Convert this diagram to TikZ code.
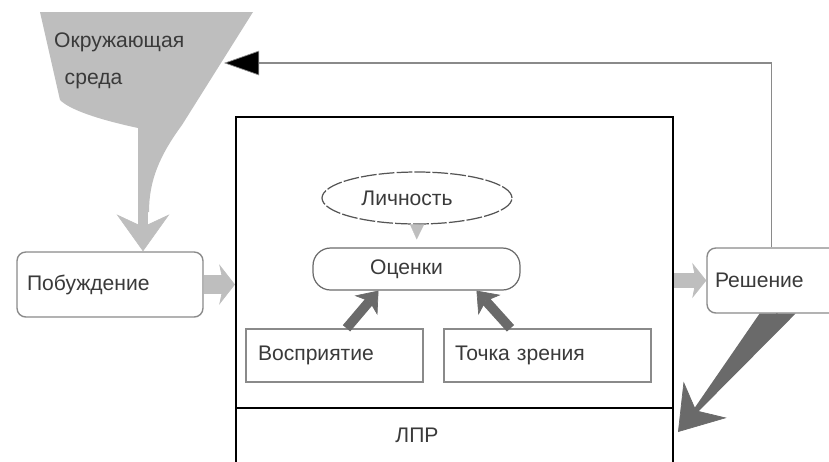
\documentclass[tikz,border=0pt]{standalone}
\usepackage{fontspec}
\setmainfont{Liberation Sans}
\usepackage{xcolor}
\usepackage{tikz}
\usetikzlibrary{arrows.meta,calc,positioning,shapes.geometric}
\definecolor{Ink}{HTML}{3A3A3A}
\definecolor{EnvGray}{HTML}{BEBEBE}
\definecolor{DarkGray}{HTML}{6A6A6A}
\definecolor{Edge}{HTML}{8A8A8A}

\begin{document}
\begin{tikzpicture}[x=0.02cm,y=-0.02cm,
  font=\fontsize{12}{14}\selectfont,text=Ink,
  softbox/.style={draw=Edge,line width=0.8pt,rounded corners=5pt,fill=white,align=left,minimum height=1.3cm,inner ysep=0pt},
  flatbox/.style={draw=Edge,line width=0.8pt,fill=white,align=left,minimum height=1.06cm,inner ysep=0pt},
  heavy/.style={draw=black,line width=1.2pt,minimum width=8.74cm,inner sep=0pt},
  bubble/.style={ellipse,draw=DarkGray!80!black,line width=0.7pt,dash pattern=on 9pt off 1.2pt,minimum width=3.8cm,minimum height=1.04cm,inner sep=0pt},
  fat/.style={draw=EnvGray,line width=11pt,-{Stealth[length=9pt,width=23pt,inset=2.5pt,line width=0.4pt]}},
  dark/.style={draw=DarkGray,line width=5.5pt,-{Stealth[length=11pt,width=17pt,inset=3pt,line width=0.4pt]}},
  feedback/.style={draw=Edge,line width=0.9pt,-{Triangle[length=20pt,width=14pt,line width=0.4pt,fill=black]}},
  cue/.style={draw=EnvGray,line width=0.1pt,-{Triangle[length=8.5pt,width=8pt]},shorten >=0.16cm}
]
\clip (0,0) rectangle (829,461);
% environment funnel
\fill[EnvGray] (40,12) -- (253,12) -- (182,125) .. controls (160,155) and (149,180) .. (149,212)
  -- (138,212) -- (138,128) .. controls (110,122) and (72,112) .. (60,100) -- cycle;
\node[anchor=west,align=left] (envtext) at (48,61) {Окружающая\\[7pt]\hspace*{6pt}среда};
\coordinate (envout) at (143,205);
\coordinate (envin) at (224,63);
\coordinate (lprtip) at (678,432);

\node[heavy,minimum height=5.82cm] (main) at (454.5,262.5) {};
\node[heavy,minimum height=1.34cm] (lpr) at (454.5,441.5) {};
\node (lprtext) at (417,435) {ЛПР};

\node[softbox,text width=3.32cm,inner xsep=0.2cm] (impulse) at (110,284.5) {Побуждение};
\node[softbox,text width=2.74cm,inner xsep=0.16cm] (decision) at (783.5,280.5) {Решение};

\node[bubble] (persona) at (417,198) {Личность\hspace*{0.4cm}};
\node[draw=DarkGray,line width=0.7pt,rounded corners=10pt,minimum width=4.14cm,minimum height=0.84cm,inner sep=0pt] (grades) at (416.5,269) {Оценки\hspace*{0.4cm}};
\node[flatbox,text width=3.06cm,inner xsep=0.24cm] (perception) at (334.5,355.5) {Восприятие};
\node[flatbox,text width=3.7cm,inner xsep=0.22cm] (viewpoint) at (547.5,355.5) {Точка зрения};

% connectors
\draw[fat,line width=5.5pt,-{Stealth[length=21pt,width=30pt,inset=7pt,line width=0.4pt]}] (envout) -- (impulse.north -| envout);
\draw[fat] (impulse.east) -- (impulse.east -| main.west);
\draw[fat,line width=9pt,-{Stealth[length=8pt,width=20pt,inset=2pt,line width=0.4pt]}] (decision.west -| main.east) -- (decision.west);
\draw[cue] (persona.south) -- (grades.north);
\draw[dark] ($(perception.north)+(12,0)$) -- ($(grades.south)+(-38,0)$);
\draw[dark] ($(viewpoint.north)+(-37,0)$) -- ($(grades.south)+(60,0)$);
\draw[feedback] ($(decision.north west)+(65,0)$) |- (envin);
\fill[DarkGray] ($(decision.south)+(-24,0)$) -- ($(decision.south)+(12,0)$) -- (lprtip) -- cycle;
\draw[dark,line width=1pt,-{Stealth[length=24pt,width=32pt,inset=8pt,line width=0.4pt]}] ($(decision.south)+(-6,0)$) -- (lprtip);
\end{tikzpicture}
\end{document}
